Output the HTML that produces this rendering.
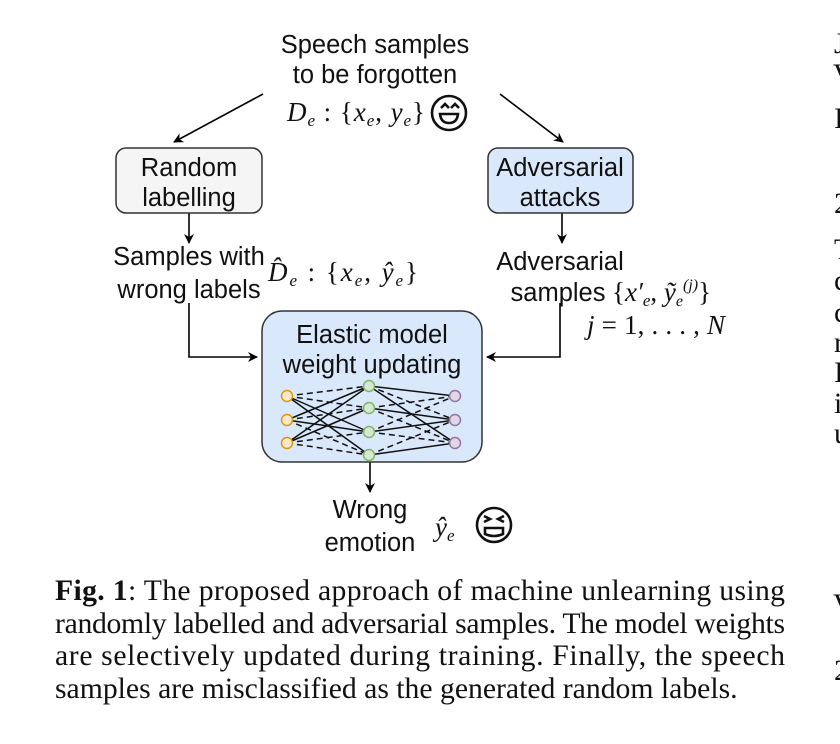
<!DOCTYPE html>
<html><head><meta charset="utf-8"><style>
body{margin:0;background:#fff}
svg{display:block}
.s{font-family:"Liberation Sans",sans-serif;font-size:25.5px;fill:#111}
.m{font-family:"Liberation Serif",serif;font-style:italic;font-size:27px;fill:#111}
.c{font-family:"Liberation Serif",serif;font-size:29.7px;fill:#111}
</style></head><body>
<svg width="840" height="744" viewBox="0 0 840 744" xmlns="http://www.w3.org/2000/svg">
<defs><marker id="a" markerWidth="10" markerHeight="10" refX="9" refY="5" orient="auto" markerUnits="userSpaceOnUse"><path d="M0,0 L10,5 L0,10 L3,5z" fill="#000"/></marker></defs>
<g stroke="#000" stroke-width="1.6" fill="none">
<line x1="263" y1="94" x2="174" y2="142" marker-end="url(#a)"/>
<line x1="500" y1="94" x2="563" y2="142" marker-end="url(#a)"/>
<line x1="189" y1="213" x2="189" y2="243" marker-end="url(#a)"/>
<line x1="562" y1="213" x2="562" y2="243" marker-end="url(#a)"/>
<polyline points="189,303 189,357 257,357" marker-end="url(#a)"/>
<polyline points="560,303 560,357 487,357" marker-end="url(#a)"/>
<line x1="370" y1="462" x2="370" y2="492" marker-end="url(#a)"/>
</g>
<rect x="116" y="148" width="146" height="65" rx="10" fill="#f5f5f5" stroke="#333" stroke-width="1.5"/>
<rect x="488" y="148" width="145" height="65" rx="10" fill="#dae8fc" stroke="#333" stroke-width="1.5"/>
<rect x="262" y="311" width="220" height="151" rx="20" fill="#dae8fc" stroke="#333" stroke-width="1.5"/>
<text class="s" text-anchor="middle" x="375" y="53">Speech samples</text>
<text class="s" text-anchor="middle" x="375" y="83">to be forgotten</text>
<text class="m" x="287" y="121" textLength="138">D<tspan font-size="17" dy="5">e</tspan><tspan dy="-5" font-style="normal"> : {</tspan>x<tspan font-size="17" dy="5">e</tspan><tspan dy="-5" font-style="normal">, </tspan>y<tspan font-size="17" dy="5">e</tspan><tspan dy="-5" font-style="normal">}</tspan></text>
<g stroke="#111" stroke-width="2.6" fill="none"><circle cx="449" cy="113" r="17"/><path d="M441,108 l4,-4 l4,4 M451,108 l4,-4 l4,4"/><path d="M440,114 h18 q-1,9 -9,9 q-8,0 -9,-9z"/></g>
<text class="s" text-anchor="middle" x="189" y="176">Random</text>
<text class="s" text-anchor="middle" x="189" y="206">labelling</text>
<text class="s" text-anchor="middle" x="560" y="176">Adversarial</text>
<text class="s" text-anchor="middle" x="560" y="206">attacks</text>
<text class="s" text-anchor="middle" x="189" y="265">Samples with</text>
<text class="s" text-anchor="middle" x="189" y="298">wrong labels</text>
<text class="m" x="268" y="281" textLength="150">D̂<tspan font-size="17" dy="5">e</tspan><tspan dy="-5" font-style="normal"> : {</tspan>x<tspan font-size="17" dy="5">e</tspan><tspan dy="-5" font-style="normal">, </tspan>ŷ<tspan font-size="17" dy="5">e</tspan><tspan dy="-5" font-style="normal">}</tspan></text>
<text class="s" text-anchor="middle" x="560" y="270">Adversarial</text>
<text class="s" text-anchor="middle" x="558" y="301">samples</text>
<text class="m" x="612" y="301"><tspan font-style="normal">{</tspan>x′<tspan font-size="17" dy="5">e</tspan><tspan dy="-5" font-style="normal">, </tspan>ỹ<tspan font-size="16" dy="5">e</tspan><tspan font-size="16" dy="-16">(j)</tspan><tspan dy="11" font-style="normal">}</tspan></text>
<text class="m" x="587" y="334" textLength="138">j<tspan font-style="normal"> = 1, . . . , </tspan>N</text>
<text class="s" text-anchor="middle" x="372" y="343">Elastic model</text>
<text class="s" text-anchor="middle" x="372" y="373">weight updating</text>
<g stroke="#111" stroke-width="1.5">
<g>
<line x1="287" y1="396" x2="369" y2="432"/><line x1="287" y1="396" x2="369" y2="455"/>
<line x1="287" y1="420" x2="369" y2="386"/><line x1="287" y1="420" x2="369" y2="432"/>
<line x1="287" y1="443" x2="369" y2="386"/><line x1="287" y1="443" x2="369" y2="408"/>
<line x1="369" y1="386" x2="455" y2="396"/><line x1="369" y1="386" x2="455" y2="443"/>
<line x1="369" y1="408" x2="455" y2="420"/><line x1="369" y1="432" x2="455" y2="420"/>
<line x1="369" y1="455" x2="455" y2="443"/>
</g>
<g stroke-dasharray="6,4">
<line x1="287" y1="396" x2="369" y2="386"/><line x1="287" y1="396" x2="369" y2="408"/>
<line x1="287" y1="420" x2="369" y2="408"/><line x1="287" y1="420" x2="369" y2="455"/>
<line x1="287" y1="443" x2="369" y2="432"/><line x1="287" y1="443" x2="369" y2="455"/>
<line x1="369" y1="386" x2="455" y2="420"/><line x1="369" y1="408" x2="455" y2="396"/>
<line x1="369" y1="408" x2="455" y2="443"/><line x1="369" y1="432" x2="455" y2="396"/>
<line x1="369" y1="432" x2="455" y2="443"/><line x1="369" y1="455" x2="455" y2="420"/>
</g>
</g>
<g stroke-width="1.5">
<g fill="#ffe6cc" stroke="#d79b00"><circle cx="287" cy="396" r="5.5"/><circle cx="287" cy="420" r="5.5"/><circle cx="287" cy="443" r="5.5"/></g>
<g fill="#d5e8d4" stroke="#82b366"><circle cx="369" cy="386" r="5.5"/><circle cx="369" cy="408" r="5.5"/><circle cx="369" cy="432" r="5.5"/><circle cx="369" cy="455" r="5.5"/></g>
<g fill="#e1d5e7" stroke="#9673a6"><circle cx="455" cy="396" r="5.5"/><circle cx="455" cy="420" r="5.5"/><circle cx="455" cy="443" r="5.5"/></g>
</g>
<text class="s" text-anchor="middle" x="370" y="518">Wrong</text>
<text class="s" text-anchor="middle" x="370" y="551">emotion</text>
<text class="m" x="435" y="536">ŷ<tspan font-size="17" dy="5">e</tspan></text>
<g stroke="#111" stroke-width="2.6" fill="none"><circle cx="494" cy="525" r="17"/><path d="M484,516 l6,3 l-6,3 M504,516 l-6,3 l6,3"/><path d="M485,528 h18 v6 q-9,4 -18,0z"/></g>
<text class="c" x="55" y="600" textLength="730" lengthAdjust="spacing"><tspan font-weight="bold">Fig. 1</tspan>: The proposed approach of machine unlearning using</text>
<text class="c" x="55" y="633" textLength="730" lengthAdjust="spacing">randomly labelled and adversarial samples. The model weights</text>
<text class="c" x="55" y="665" textLength="730" lengthAdjust="spacing">are selectively updated during training. Finally, the speech</text>
<text class="c" x="55" y="698">samples are misclassified as the generated random labels.</text>
<g class="c"><text x="834" y="53">J</text><text x="833" y="84">V</text><text x="834" y="128">I</text><text x="834" y="213">2</text><text x="834" y="259">T</text><text x="834" y="290">c</text><text x="834" y="322">c</text><text x="834" y="352">r</text><text x="834" y="382">I</text><text x="834" y="413">i</text><text x="834" y="443">u</text><text x="833" y="614">V</text><text x="834" y="680">2</text></g>
</svg>
</body></html>
